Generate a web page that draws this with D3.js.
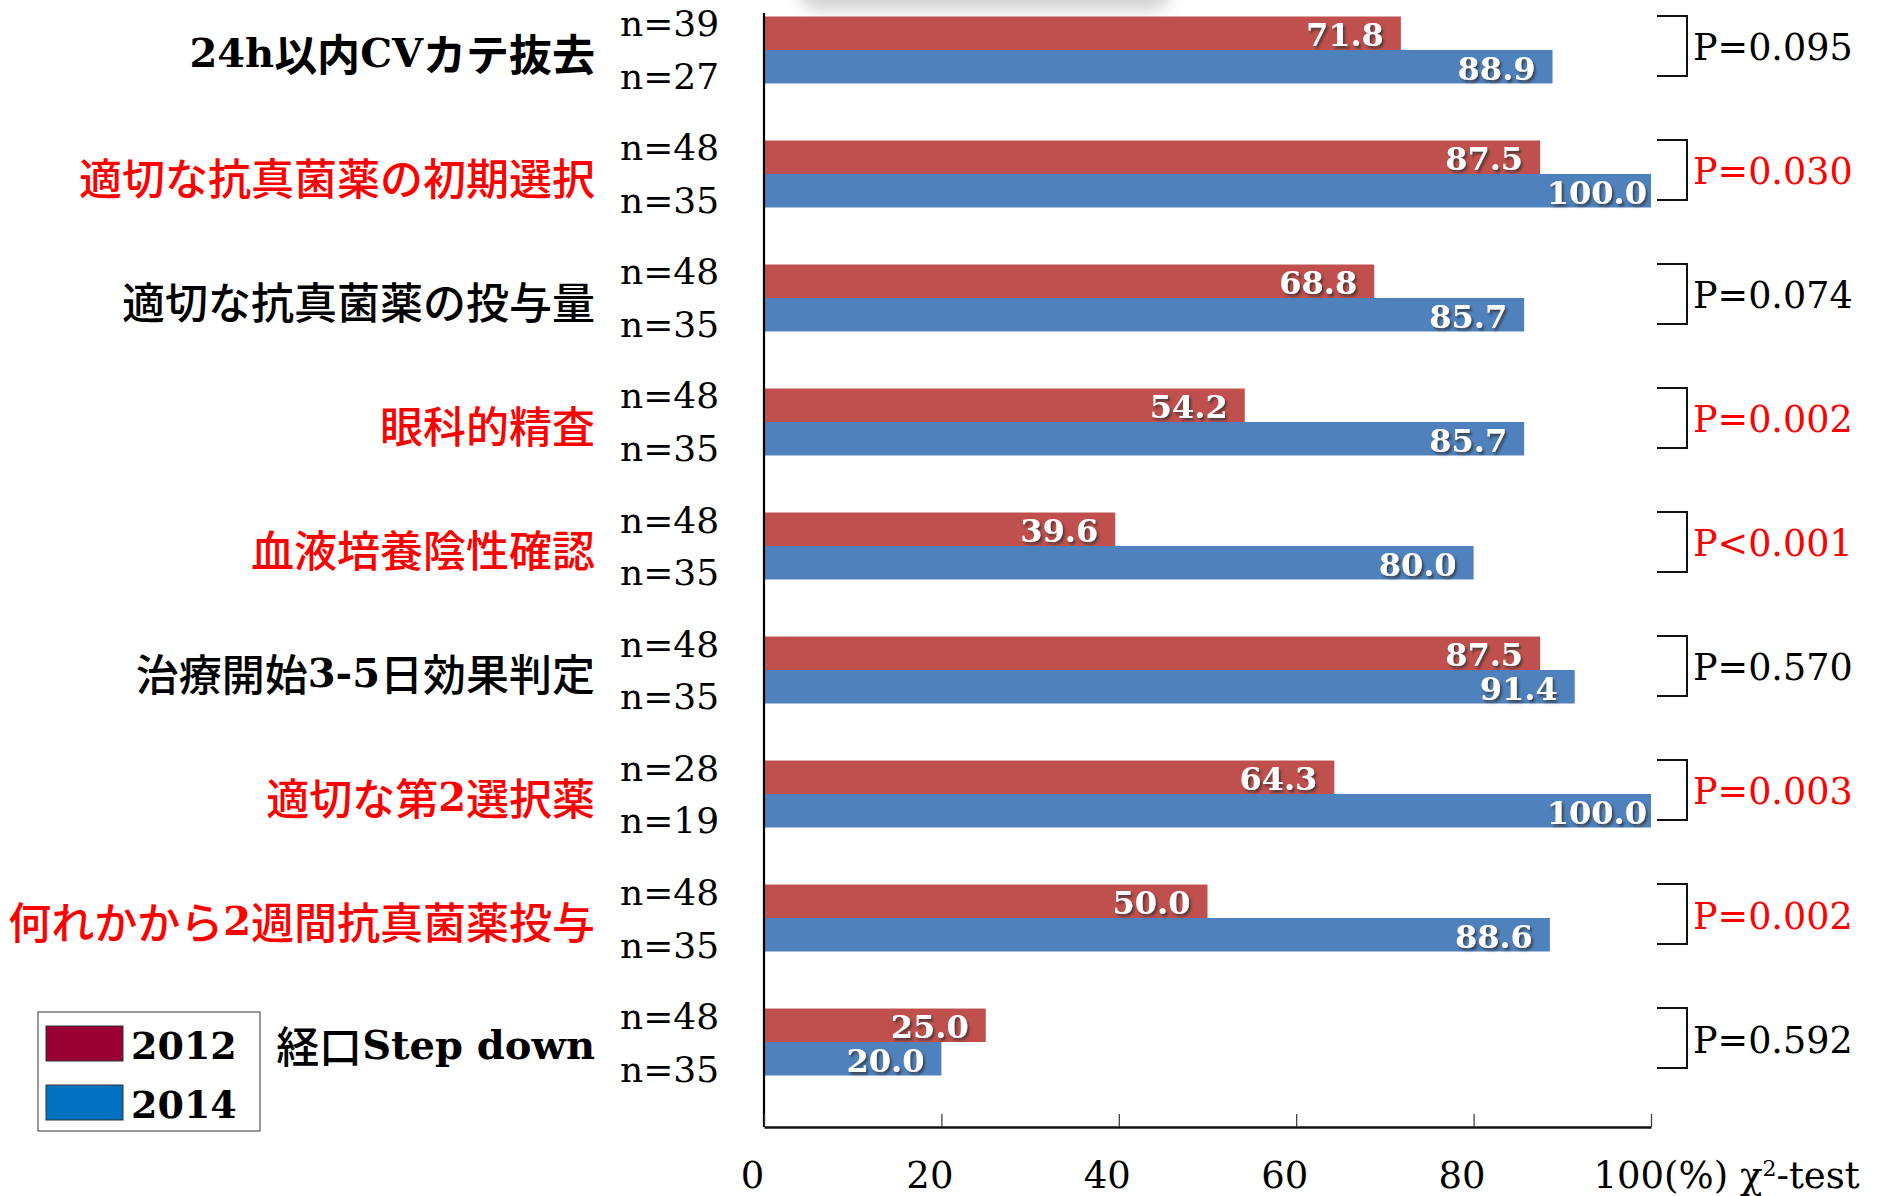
<!DOCTYPE html>
<html>
<head>
<meta charset="utf-8">
<script src="https://cdn.jsdelivr.net/npm/d3@7"></script>
<style>
  html, body { margin: 0; padding: 0; background: #fff; }
  svg { display: block; }
</style>
</head>
<body>
<svg id="chart" width="1878" height="1196"></svg>
<script>
// Items evaluated, 2012 vs 2014 (percent)
const categories = [
  "24h以内CVカテ抜去",
  "適切な抗真菌薬の初期選択",
  "適切な抗真菌薬の投与量",
  "眼科的精査",
  "血液培養陰性確認",
  "治療開始3-5日効果判定",
  "適切な第2選択薬",
  "何れかから2週間抗真菌薬投与",
  "経口Step down"
];
const years = ["2012", "2014"];
const values2012 = [71.8, 87.5, 68.8, 54.2, 39.6, 87.5, 64.3, 50.0, 25.0];
const values2014 = [88.9, 100.0, 85.7, 85.7, 80.0, 91.4, 100.0, 88.6, 20.0];
const n2012 = [39, 48, 48, 48, 48, 48, 28, 48, 48];
const n2014 = [27, 35, 35, 35, 35, 35, 19, 35, 35];
const pLabels = ["P=0.095", "P=0.030", "P=0.074", "P=0.002", "P<0.001", "P=0.570", "P=0.003", "P=0.002", "P=0.592"];
const significant = [false, true, false, true, true, false, true, true, false];
const tickValues = [0, 20, 40, 60, 80, 100];

const W = 1878, H = 1196;
const svg = d3.select("#chart");

const barColors = { "2012": "#C0504D", "2014": "#4F81BD" };
const legendColors = { "2012": "#990033", "2014": "#0070C0" };
const SERIF = "'DejaVu Serif', 'Liberation Serif', serif";
const JP = "'Noto Sans CJK JP', 'Noto Sans', sans-serif";

const defs = svg.append("defs");
const shadow = defs.append("filter").attr("id", "txtShadow")
  .attr("x", "-20%").attr("y", "-20%").attr("width", "140%").attr("height", "150%");
shadow.append("feDropShadow").attr("dx", 2).attr("dy", 2.5)
  .attr("stdDeviation", 1.2).attr("flood-color", "#333").attr("flood-opacity", 0.75);
const haze = defs.append("filter").attr("id", "haze")
  .attr("x", "-50%").attr("y", "-200%").attr("width", "200%").attr("height", "500%");
haze.append("feGaussianBlur").attr("stdDeviation", 8);

// faint smudge along the top edge
svg.append("rect").attr("x", 800).attr("y", -26).attr("width", 370).attr("height", 36)
  .attr("rx", 18).attr("fill", "#9a9a9a").attr("opacity", 0.45).attr("filter", "url(#haze)");

// scales
const x = d3.scaleLinear().domain([0, 100]).range([764, 1651]);
const y = d3.scaleBand().domain(d3.range(categories.length))
  .range([16.5, 16.5 + 8 * 124 + 67]).paddingInner(0.46).paddingOuter(0);
const yInner = d3.scaleBand().domain(years).range([0, y.bandwidth()]);

const rows = categories.map((c, i) => ({
  i, label: c, sig: significant[i], p: pLabels[i],
  bars: [
    { year: "2012", v: values2012[i], n: n2012[i] },
    { year: "2014", v: values2014[i], n: n2014[i] }
  ]
}));

const groups = svg.append("g").selectAll("g.row").data(rows).join("g")
  .attr("class", "row")
  .attr("transform", d => `translate(0,${y(d.i)})`);

// bars
groups.selectAll("rect.bar").data(d => d.bars).join("rect")
  .attr("class", "bar")
  .attr("x", x(0))
  .attr("y", b => yInner(b.year))
  .attr("width", b => x(b.v) - x(0))
  .attr("height", yInner.bandwidth())
  .attr("fill", b => barColors[b.year]);

// value labels inside bar ends
groups.selectAll("text.val").data(d => d.bars).join("text")
  .attr("class", "val")
  .attr("x", b => x(b.v) - (b.v >= 100 ? 4 : 17))
  .attr("y", b => yInner(b.year) + yInner.bandwidth() / 2 + 2)
  .attr("text-anchor", "end")
  .attr("dominant-baseline", "central")
  .attr("font-family", SERIF)
  .attr("font-weight", "bold")
  .attr("font-size", 32)
  .attr("fill", "#fff")
  .attr("filter", "url(#txtShadow)")
  .text(b => b.v.toFixed(1));

// sample sizes
groups.selectAll("text.n").data(d => d.bars).join("text")
  .attr("class", "n")
  .attr("x", 620)
  .attr("y", (b, j) => y.bandwidth() / 2 + (j === 0 ? -26 : 27))
  .attr("dominant-baseline", "central")
  .attr("font-family", SERIF)
  .attr("font-size", 36)
  .attr("fill", "#000")
  .text(b => `n=${b.n}`);

// category labels: Latin runs in bold serif, Japanese in gothic
groups.append("text")
  .attr("class", "cat")
  .attr("x", 595)
  .attr("y", y.bandwidth() / 2 + 2)
  .attr("text-anchor", "end")
  .attr("dominant-baseline", "central")
  .attr("fill", d => d.sig ? "#FF0000" : "#000")
  .each(function (d) {
    const t = d3.select(this);
    const parts = d.label.match(/[\x00-\x7F]+|[^\x00-\x7F]+/g);
    parts.forEach(s => {
      const latin = /^[\x00-\x7F]+$/.test(s);
      t.append("tspan")
        .attr("font-family", latin ? SERIF : JP)
        .attr("font-weight", latin ? "bold" : (d.i === 0 ? 700 : 500))
        .attr("font-size", latin ? 40 : 43)
        .text(s);
    });
  });

// significance brackets and p values
const bx0 = 1657, bx1 = 1687, bh = 60;
groups.append("path")
  .attr("d", () => {
    const c = y.bandwidth() / 2 - 4;
    return `M${bx0},${c - bh / 2}H${bx1}V${c + bh / 2}H${bx0}`;
  })
  .attr("fill", "none")
  .attr("stroke", "#111")
  .attr("stroke-width", 2);

groups.append("text")
  .attr("x", 1693)
  .attr("y", y.bandwidth() / 2 - 2)
  .attr("dominant-baseline", "central")
  .attr("font-family", SERIF)
  .attr("font-size", 36.5)
  .attr("fill", d => d.sig ? "#FF0000" : "#000")
  .text(d => d.p);

// axes
const axisY = 1127;
svg.append("line")
  .attr("x1", x(0)).attr("x2", x(0))
  .attr("y1", 13).attr("y2", axisY)
  .attr("stroke", "#000").attr("stroke-width", 2.2);

const xAxis = d3.axisBottom(x)
  .tickValues(tickValues)
  .tickSizeInner(-13)
  .tickSizeOuter(0)
  .tickFormat(v => v === 100 ? "100(%)" : String(v));

const gx = svg.append("g").attr("transform", `translate(0,${axisY})`).call(xAxis);
gx.select(".domain").attr("stroke", "#111").attr("stroke-width", 2.4);
gx.selectAll(".tick line").attr("stroke", "#333").attr("stroke-width", 1.2);
gx.selectAll(".tick text")
  .attr("font-family", SERIF)
  .attr("font-size", 37)
  .attr("fill", "#000")
  .attr("y", 48)
  .attr("dy", "0.35em")
  .attr("x", v => v === 100 ? -58 : -12)
  .attr("text-anchor", v => v === 100 ? "start" : "middle");

svg.append("text")
  .attr("x", 1740)
  .attr("y", axisY + 48)
  .attr("dy", "0.35em")
  .attr("font-family", SERIF)
  .attr("font-size", 37)
  .attr("fill", "#000")
  .html('χ<tspan baseline-shift="super" font-size="22">2</tspan>-test');

// legend
const legend = svg.append("g");
legend.append("rect")
  .attr("x", 38).attr("y", 1012).attr("width", 222).attr("height", 119)
  .attr("fill", "#fff").attr("stroke", "#555").attr("stroke-width", 1.2);
const items = legend.selectAll("g.item").data(years).join("g")
  .attr("class", "item")
  .attr("transform", (d, j) => `translate(46,${1026 + j * 59})`);
items.append("rect")
  .attr("width", 77).attr("height", 35)
  .attr("fill", d => legendColors[d])
  .attr("stroke", "#333").attr("stroke-width", 1);
items.append("text")
  .attr("x", 85).attr("y", 19)
  .attr("dominant-baseline", "central")
  .attr("font-family", SERIF)
  .attr("font-weight", "bold")
  .attr("font-size", 38)
  .attr("fill", "#000")
  .text(d => d);
</script>
</body>
</html>
